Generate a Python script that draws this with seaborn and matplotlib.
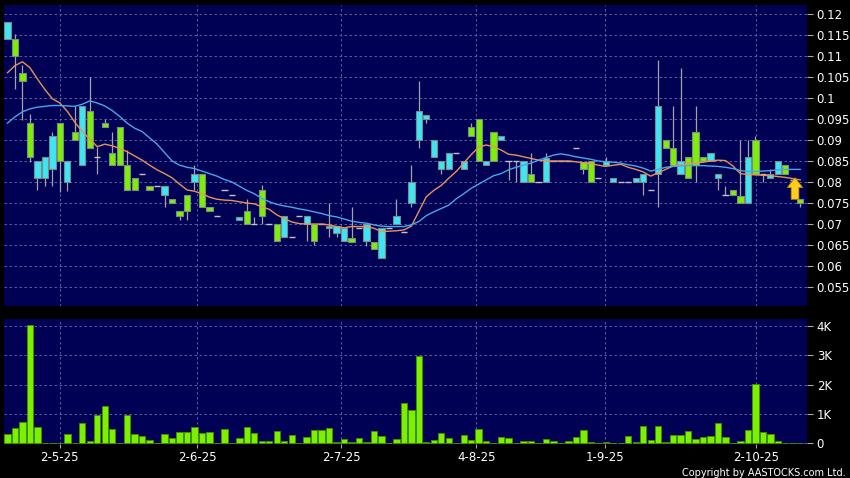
import numpy as np
import pandas as pd
import matplotlib
matplotlib.use('Agg')
import matplotlib.pyplot as plt
import seaborn as sns

# Daily candles, index 0 = first trading day shown
opens = [0.114, 0.114, 0.106, 0.094, 0.081, 0.081, 0.083, 0.094, 0.080, 0.092,
         0.084, 0.097, 0.086, 0.094, 0.087, 0.093, 0.084, 0.081, 0.082, 0.079,
         0.079, 0.077, 0.076, 0.073, 0.0768, 0.080, 0.082, 0.074, 0.072, 0.078,
         0.077, 0.071, 0.073, 0.070, 0.078, 0.070, 0.070, 0.067, 0.067, 0.072,
         0.070, 0.070, 0.070, 0.069, 0.0678, 0.066, 0.0667, 0.069, 0.066, 0.0658,
         0.062, 0.069, 0.070, 0.068, 0.075, 0.090, 0.095, 0.086, 0.083, 0.083,
         0.087, 0.083, 0.093, 0.095, 0.084, 0.092, 0.090, 0.085, 0.085, 0.080,
         0.082, 0.080, 0.080, 0.085, 0.085, 0.085, 0.088, 0.0847, 0.085, 0.081,
         0.084, 0.080, 0.080, 0.080, 0.080, 0.080, 0.078, 0.082, 0.090, 0.088,
         0.082, 0.086, 0.092, 0.086, 0.085, 0.081, 0.077, 0.078, 0.0767, 0.075,
         0.090, 0.082, 0.081, 0.082, 0.084, 0.0805, 0.076]
highs = [0.118, 0.1152, 0.1079, 0.0962, 0.085, 0.086, 0.092, 0.094, 0.085, 0.098,
         0.098, 0.105, 0.0884, 0.095, 0.092, 0.093, 0.0876, 0.081, 0.082, 0.079,
         0.079, 0.079, 0.076, 0.073, 0.0768, 0.084, 0.082, 0.074, 0.072, 0.078,
         0.077, 0.0717, 0.076, 0.0717, 0.0793, 0.070, 0.070, 0.072, 0.067, 0.072,
         0.072, 0.070, 0.070, 0.075, 0.0696, 0.069, 0.074, 0.069, 0.070, 0.0658,
         0.069, 0.069, 0.076, 0.068, 0.084, 0.104, 0.096, 0.090, 0.085, 0.087,
         0.087, 0.085, 0.094, 0.095, 0.085, 0.092, 0.091, 0.085, 0.085, 0.085,
         0.087, 0.080, 0.087, 0.085, 0.085, 0.085, 0.088, 0.0847, 0.085, 0.081,
         0.086, 0.081, 0.080, 0.080, 0.081, 0.082, 0.078, 0.109, 0.090, 0.098,
         0.107, 0.086, 0.098, 0.086, 0.087, 0.082, 0.079, 0.078, 0.090, 0.090,
         0.091, 0.082, 0.083, 0.085, 0.084, 0.0805, 0.076]
lows = [0.114, 0.1021, 0.0948, 0.0848, 0.078, 0.079, 0.079, 0.0777, 0.0779, 0.090,
        0.084, 0.088, 0.0818, 0.093, 0.084, 0.084, 0.078, 0.078, 0.082, 0.078,
        0.079, 0.074, 0.075, 0.071, 0.071, 0.078, 0.074, 0.073, 0.072, 0.078,
        0.077, 0.071, 0.070, 0.070, 0.070, 0.070, 0.066, 0.067, 0.067, 0.072,
        0.066, 0.065, 0.070, 0.067, 0.067, 0.066, 0.0658, 0.069, 0.0648, 0.064,
        0.062, 0.069, 0.070, 0.068, 0.074, 0.088, 0.094, 0.086, 0.082, 0.083,
        0.087, 0.083, 0.091, 0.085, 0.084, 0.085, 0.090, 0.0805, 0.080, 0.080,
        0.080, 0.080, 0.080, 0.085, 0.085, 0.085, 0.088, 0.082, 0.080, 0.081,
        0.084, 0.080, 0.080, 0.080, 0.080, 0.077, 0.078, 0.074, 0.088, 0.084,
        0.082, 0.081, 0.080, 0.085, 0.085, 0.078, 0.077, 0.077, 0.075, 0.075,
        0.082, 0.080, 0.081, 0.082, 0.082, 0.0805, 0.0741]
closes = [0.118, 0.110, 0.104, 0.086, 0.085, 0.086, 0.091, 0.085, 0.085, 0.090,
          0.098, 0.088, 0.086, 0.093, 0.084, 0.084, 0.078, 0.078, 0.082, 0.078,
          0.079, 0.079, 0.075, 0.072, 0.073, 0.082, 0.074, 0.073, 0.072, 0.078,
          0.077, 0.0717, 0.070, 0.070, 0.072, 0.070, 0.066, 0.072, 0.067, 0.072,
          0.072, 0.066, 0.070, 0.0696, 0.0696, 0.069, 0.0658, 0.069, 0.070, 0.064,
          0.069, 0.069, 0.072, 0.068, 0.080, 0.097, 0.096, 0.090, 0.085, 0.087,
          0.087, 0.085, 0.091, 0.085, 0.085, 0.085, 0.091, 0.085, 0.085, 0.085,
          0.080, 0.080, 0.0856, 0.085, 0.085, 0.085, 0.088, 0.083, 0.080, 0.081,
          0.085, 0.081, 0.080, 0.080, 0.081, 0.082, 0.078, 0.098, 0.088, 0.084,
          0.085, 0.081, 0.084, 0.085, 0.087, 0.082, 0.077, 0.077, 0.075, 0.086,
          0.082, 0.082, 0.082, 0.085, 0.082, 0.0805, 0.075]

# Volume in thousands
volume_k = [0.32, 0.51, 0.74, 4.02, 0.57, 0.02, 0.02, 0.02, 0.31, 0.0,
            0.68, 0.07, 0.98, 1.28, 0.48, 0.0, 0.98, 0.31, 0.26, 0.11,
            0.0, 0.32, 0.17, 0.39, 0.37, 0.56, 0.34, 0.40, 0.0, 0.49,
            0.0, 0.19, 0.56, 0.35, 0.08, 0.08, 0.41, 0.07, 0.28, 0.0,
            0.20, 0.45, 0.45, 0.51, 0.05, 0.15, 0.03, 0.17, 0.06, 0.41,
            0.25, 0.0, 0.16, 1.36, 1.14, 2.99, 0.03, 0.11, 0.36, 0.18,
            0.0, 0.28, 0.11, 0.49, 0.09, 0.0, 0.22, 0.17, 0.0, 0.09,
            0.08, 0.0, 0.15, 0.07, 0.0, 0.07, 0.22, 0.45, 0.04, 0.0,
            0.03, 0.0, 0.0, 0.25, 0.04, 0.58, 0.10, 0.58, 0.03, 0.27,
            0.27, 0.43, 0.16, 0.20, 0.24, 0.70, 0.23, 0.01, 0.07, 0.45,
            2.03, 0.39, 0.31, 0.09, 0.01, 0.01, 0.01]

# Moving averages as drawn on the chart
ma_fast = [0.1060, 0.1077, 0.1086, 0.1072, 0.1045, 0.1020, 0.0998, 0.0988, 0.0968, 0.0942,
           0.0920, 0.0902, 0.0884, 0.0890, 0.0886, 0.0880, 0.0872, 0.0862, 0.0852, 0.0840,
           0.0829, 0.0820, 0.0810, 0.0795, 0.0781, 0.0778, 0.0772, 0.0764, 0.0759, 0.0757,
           0.0756, 0.0753, 0.0750, 0.0748, 0.0741, 0.0735, 0.0722, 0.0713, 0.0705, 0.0701,
           0.0700, 0.0700, 0.0700, 0.0698, 0.0694, 0.0691, 0.0694, 0.0694, 0.0694, 0.0690,
           0.0682, 0.0683, 0.0684, 0.0686, 0.0695, 0.0730, 0.0765, 0.0780, 0.0792, 0.0809,
           0.0825, 0.0845, 0.0865, 0.0883, 0.0888, 0.0884, 0.0876, 0.0866, 0.0864, 0.0860,
           0.0856, 0.0852, 0.0850, 0.0850, 0.0850, 0.0850, 0.0848, 0.0846, 0.0844, 0.0840,
           0.0837, 0.0840, 0.0842, 0.0835, 0.0830, 0.0824, 0.0814, 0.0822, 0.0830, 0.0838,
           0.0841, 0.0844, 0.0845, 0.0847, 0.0850, 0.0852, 0.0851, 0.0838, 0.0820, 0.0818,
           0.0817, 0.0816, 0.0815, 0.0813, 0.0811, 0.0808, 0.0805]
ma_slow = [0.0940, 0.0955, 0.0967, 0.0974, 0.0978, 0.0980, 0.0982, 0.0982, 0.0981, 0.0980,
           0.0985, 0.0993, 0.0988, 0.0981, 0.0970, 0.0956, 0.0940, 0.0928, 0.0920, 0.0905,
           0.0890, 0.0870, 0.0850, 0.0840, 0.0835, 0.0832, 0.0826, 0.0820, 0.0814, 0.0806,
           0.0800, 0.0790, 0.0780, 0.0772, 0.0761, 0.0753, 0.0747, 0.0743, 0.0740, 0.0736,
           0.0733, 0.0729, 0.0725, 0.0720, 0.0717, 0.0712, 0.0707, 0.0704, 0.0702, 0.0698,
           0.0695, 0.0694, 0.0694, 0.0694, 0.0698, 0.0706, 0.0720, 0.0729, 0.0737, 0.0745,
           0.0760, 0.0772, 0.0785, 0.0795, 0.0805, 0.0815, 0.0820, 0.0829, 0.0835, 0.0840,
           0.0845, 0.0852, 0.0858, 0.0864, 0.0867, 0.0864, 0.0860, 0.0857, 0.0854, 0.0850,
           0.0848, 0.0847, 0.0845, 0.0841, 0.0838, 0.0833, 0.0826, 0.0830, 0.0835, 0.0837,
           0.0838, 0.0839, 0.0839, 0.0839, 0.0838, 0.0837, 0.0835, 0.0832, 0.0827, 0.0825,
           0.0825, 0.0826, 0.0827, 0.0829, 0.0830, 0.0830, 0.0830]

date_labels = ['2-5-25', '2-6-25', '2-7-25', '4-8-25', '1-9-25', '2-10-25']
date_ticks = [7.0, 25.4, 44.6, 62.7, 79.9, 100.1]
vol_ticks = [0, 1, 2, 3, 4]
vol_labels = ['0', '1K', '2K', '3K', '4K']

BG = '#000054'
UP = '#3de6f2'
DOWN = '#7cf000'
GRID = '#6a6aa8'
TXT = '#ffffff'

df = pd.DataFrame({'o': opens, 'h': highs, 'l': lows, 'c': closes,
                   'vol': volume_k, 'ma_fast': ma_fast, 'ma_slow': ma_slow})
df['idx'] = np.arange(len(df))

plt.rcParams['font.family'] = ['DejaVu Sans']
fig = plt.figure(figsize=(8.5, 4.78), dpi=100, facecolor='black')
ax = fig.add_axes([0.0047, 0.3598, 0.9447, 0.6297])
axv = fig.add_axes([0.0047, 0.0711, 0.9447, 0.2615])

for a in (ax, axv):
    a.set_facecolor(BG)
    for s in a.spines.values():
        s.set_visible(False)

# candles
body_w = 0.84
for i, r in df.iterrows():
    ax.vlines(r['idx'], r['l'], r['h'], color='#a4a4a4', lw=0.9, zorder=2)
    if abs(r['c'] - r['o']) < 1e-9:
        ax.hlines(r['c'], r['idx'] - body_w / 2, r['idx'] + body_w / 2,
                  color='#c4c4c4', lw=1.0, zorder=3)
    else:
        col = UP if r['c'] > r['o'] else DOWN
        ax.bar(r['idx'], r['c'] - r['o'], bottom=r['o'], width=body_w,
               color=col, edgecolor='#7d8a8a', linewidth=0.8, zorder=3)

sns.lineplot(data=df, x='idx', y='ma_fast', color='#e8925a', lw=1.0, ax=ax, zorder=4)
sns.lineplot(data=df, x='idx', y='ma_slow', color='#4aa6ea', lw=1.0, ax=ax, zorder=4)

# marker arrow on the last bar
last = len(df) - 1
arrow_x = last - 0.7
base = df['c'].iloc[-1] + 0.0009
ax.annotate('', xy=(arrow_x, base + 0.0051), xytext=(arrow_x, base),
            arrowprops=dict(facecolor='#ffcf1a', edgecolor='#c98a00', lw=0.6,
                            width=5.5, headwidth=11, headlength=7), zorder=6)

# volume
sns.barplot(data=df, x='idx', y='vol', native_scale=True, width=0.85,
            color=DOWN, saturation=1, edgecolor='#3f8f00', linewidth=0.7,
            errorbar=None, ax=axv, zorder=3)

xlim = (-0.47, 106.9)
ax.set_xlim(*xlim)
axv.set_xlim(*xlim)
ax.set_ylim(0.0505, 0.1221)
axv.set_ylim(-0.024, 4.24)

price_ticks = np.round(np.arange(0.055, 0.1201, 0.005), 3)
ax.set_yticks(price_ticks)
ax.set_yticklabels(['%g' % t for t in price_ticks])
axv.set_yticks(vol_ticks)
axv.set_yticklabels(vol_labels)

for a in (ax, axv):
    a.yaxis.tick_right()
    a.tick_params(axis='y', colors='#a8a8a8', labelcolor=TXT, length=4,
                  width=0.8, pad=3, labelsize=8.5, left=False)
    a.set_xticks(date_ticks)
    a.grid(True, color=GRID, lw=0.6, ls=(0, (3, 3)), zorder=0)
    a.set_axisbelow(True)
    a.set_xlabel('')
    a.set_ylabel('')

ax.tick_params(axis='x', bottom=False, labelbottom=False)
axv.set_xticklabels(date_labels)
axv.tick_params(axis='x', colors='#a8a8a8', labelcolor=TXT, length=3,
                width=0.8, pad=2, labelsize=8.5)

fig.text(0.995, 0.011, 'Copyright by AASTOCKS.com Ltd.', ha='right', va='center',
         color=TXT, fontsize=7)

fig.savefig('out.png', dpi=100, facecolor='black')
